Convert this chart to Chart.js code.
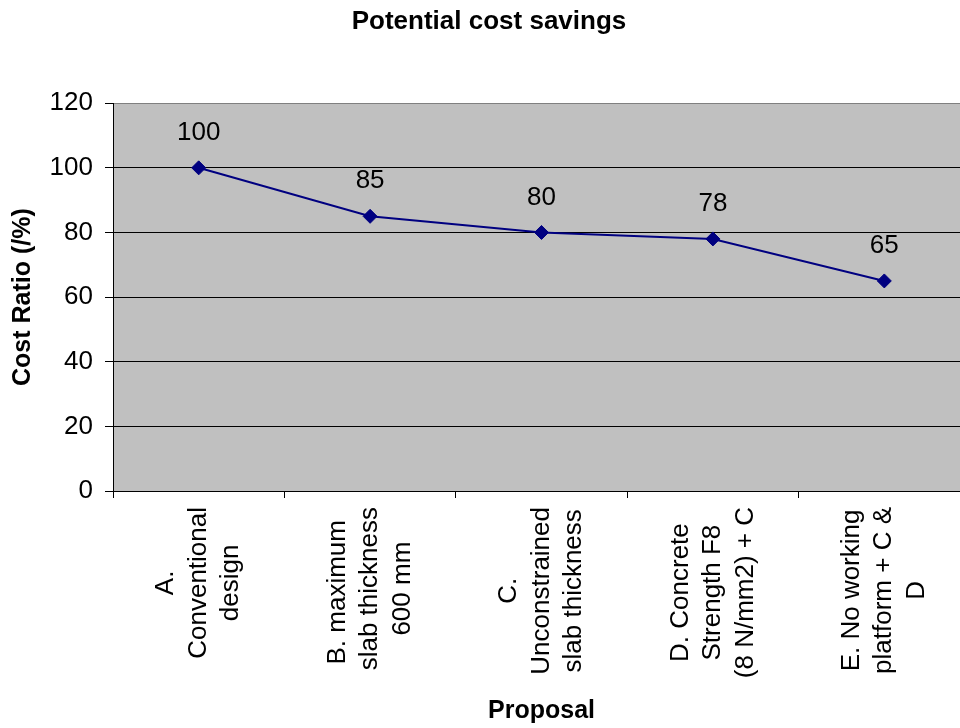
<!DOCTYPE html>
<html>
<head>
<meta charset="utf-8">
<title>Potential cost savings</title>
<script src="https://cdn.jsdelivr.net/npm/chart.js@4/dist/chart.umd.min.js"></script>
<style>
  html, body { margin: 0; padding: 0; background: #ffffff; overflow: hidden; }
  #wrap { width: 978px; height: 728px; }
</style>
</head>
<body>
<div id="wrap"><canvas id="chart" width="978" height="728"></canvas></div>
<script>
// Proposal names, one line per entry (drawn vertically under each category)
const proposals = [
  ["A.", "Conventional", "design"],
  ["B. maximum ", "slab thickness", "600 mm"],
  ["C.", "Unconstrained", "slab thickness"],
  ["D. Concrete", "Strength F8", "(8 N/mm2) + C"],
  ["E. No working", "platform + C &", "D"]
];

// Cost ratio of each proposal, in percent of the conventional design
const costRatio = [100, 85, 80, 78, 65];

// Y axis range and step
const yMin = 0;
const yMax = 120;
const yStep = 20;

const FONT = '"Liberation Sans", Arial, sans-serif';

// Grey plot area behind the grid
const plotBackground = {
  id: 'plotBackground',
  beforeDraw(chart) {
    const { ctx, chartArea: a } = chart;
    ctx.save();
    ctx.fillStyle = '#c0c0c0';
    ctx.fillRect(a.left, a.top, a.right - a.left, a.bottom - a.top);
    ctx.restore();
  }
};

// Value written above each marker
const valueLabels = {
  id: 'valueLabels',
  afterDatasetsDraw(chart) {
    const { ctx } = chart;
    const meta = chart.getDatasetMeta(0);
    const values = chart.data.datasets[0].data;
    ctx.save();
    ctx.font = '26px ' + FONT;
    ctx.fillStyle = '#000000';
    ctx.textAlign = 'center';
    ctx.textBaseline = 'middle';
    meta.data.forEach((pt, i) => {
      ctx.fillText(String(values[i]), pt.x, pt.y - 35);
    });
    ctx.restore();
  }
};

// Vertical, centred multi-line category names under the x axis
const categoryNames = {
  id: 'categoryNames',
  afterDraw(chart) {
    const { ctx } = chart;
    const xs = chart.scales.x;
    const lineH = 32.5;
    ctx.save();
    ctx.font = '26px ' + FONT;
    ctx.fillStyle = '#000000';
    ctx.textAlign = 'center';
    ctx.textBaseline = 'middle';
    chart.data.labels.forEach((lines, i) => {
      const x = xs.getPixelForValue(i);
      const maxW = Math.max(...lines.map(l => ctx.measureText(l).width));
      const cy = xs.top + 16 + maxW / 2;
      lines.forEach((line, k) => {
        const dx = (k - (lines.length - 1) / 2) * lineH;
        ctx.save();
        ctx.translate(x + dx, cy);
        ctx.rotate(-Math.PI / 2);
        ctx.fillText(line, 0, 0);
        ctx.restore();
      });
    });
    ctx.restore();
  }
};

new Chart(document.getElementById('chart'), {
  type: 'line',
  data: {
    labels: proposals,
    datasets: [{
      data: costRatio,
      borderColor: '#000080',
      backgroundColor: '#000080',
      borderWidth: 2,
      tension: 0,
      pointStyle: 'rectRot',
      pointRadius: 7,
      pointHoverRadius: 7,
      pointBackgroundColor: '#000080',
      pointBorderColor: '#000080',
      pointBorderWidth: 1
    }]
  },
  options: {
    responsive: false,
    animation: false,
    devicePixelRatio: 1,
    layout: { padding: { left: 0, right: 0, top: 0, bottom: 0 } },
    plugins: {
      legend: { display: false },
      tooltip: { enabled: false },
      title: {
        display: true,
        text: 'Potential cost savings',
        color: '#000000',
        font: { family: FONT, size: 26, weight: 'bold' },
        padding: { top: 6, bottom: 66 }
      }
    },
    scales: {
      x: {
        type: 'category',
        offset: true,
        afterFit(scale) { scale.height = 237; },
        grid: {
          offset: true,
          drawOnChartArea: false,
          drawTicks: true,
          tickLength: 7,
          color: '#000000',
          tickColor: '#000000'
        },
        border: { display: true, color: '#000000', width: 1 },
        ticks: { display: false },
        title: {
          display: true,
          text: 'Proposal',
          color: '#000000',
          font: { family: FONT, size: 25, weight: 'bold' },
          padding: { top: 0, bottom: 2 }
        }
      },
      y: {
        min: yMin,
        max: yMax,
        afterFit(scale) { scale.width = 113; },
        ticks: {
          stepSize: yStep,
          color: '#000000',
          padding: 12,
          font: { family: FONT, size: 26 }
        },
        grid: {
          color: (c) => (c.tick && c.tick.value === yMax ? '#808080' : '#000000'),
          tickColor: '#000000',
          tickLength: 8,
          lineWidth: 1
        },
        border: { display: true, color: '#000000', width: 1 },
        title: {
          display: true,
          text: 'Cost Ratio (/%)',
          color: '#000000',
          font: { family: FONT, size: 25, weight: 'bold' },
          padding: { top: 8, bottom: 0 }
        }
      }
    }
  },
  plugins: [plotBackground, valueLabels, categoryNames]
});
</script>
</body>
</html>
